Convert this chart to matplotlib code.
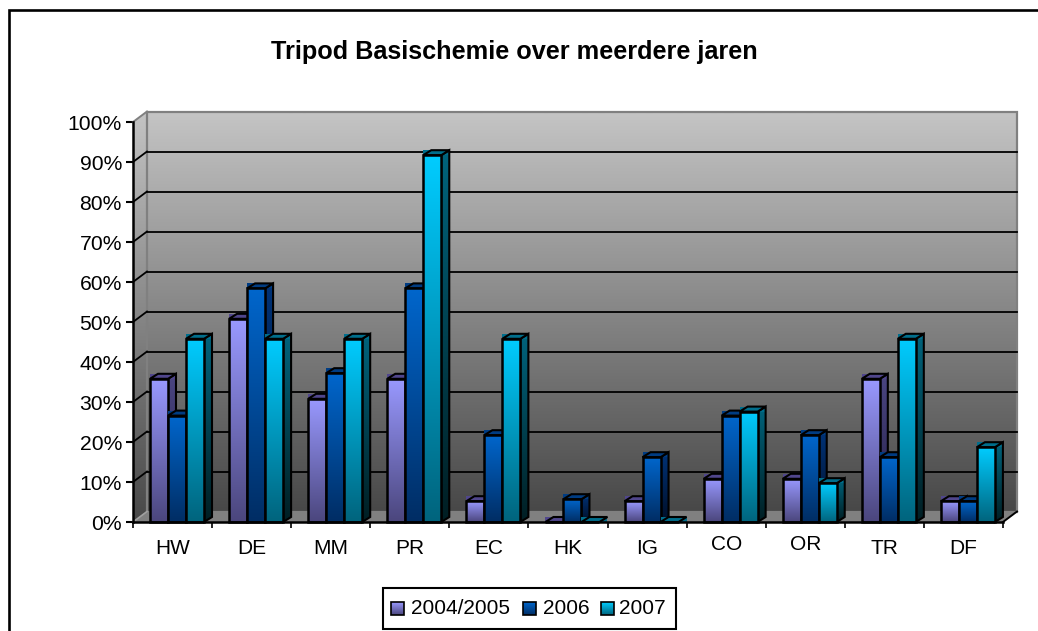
import numpy as np
import matplotlib
matplotlib.use('Agg')
import matplotlib.pyplot as plt
from matplotlib.patches import Polygon, Rectangle
from matplotlib.colors import to_rgb

plt.rcParams['font.family'] = ['Liberation Sans', 'DejaVu Sans']

title = 'Tripod Basischemie over meerdere jaren'
categories = ['HW', 'DE', 'MM', 'PR', 'EC', 'HK', 'IG', 'CO', 'OR', 'TR', 'DF']
series_names = ['2004/2005', '2006', '2007']
v2005 = [35.8, 50.8, 30.8, 35.8, 5.2, 0, 5.2, 10.8, 10.8, 35.8, 5.2]
v2006 = [26.6, 58.4, 37.2, 58.4, 21.7, 5.7, 16.2, 26.6, 21.7, 16.2, 5.2]
v2007 = [45.8, 45.8, 45.8, 91.7, 45.8, 0, 0, 27.6, 9.7, 45.8, 18.7]
y_ticks = list(range(0, 101, 10))

# front / side / top kleuren per reeks
front_cols = [('#9999ff', '#4b467d'), ('#0066cc', '#002d64'), ('#00ccff', '#00647d')]
side_cols = [('#4b4682', '#231e46'), ('#003378', '#000f28'), ('#00647d', '#001e23')]
top_cols = ['#50468c', '#003c82', '#006e8c']

W, H = 1038, 631
X0, X1, Y0, Y1 = 133, 1003, 522, 122   # plot box in pixels
PX_X = len(categories) / (X1 - X0)
PX_Y = 100 / (Y0 - Y1)

fig = plt.figure(figsize=(W / 100, H / 100), dpi=100, facecolor='white')

# overlay in pixels for frame, title and legend
bg = fig.add_axes([0, 0, 1, 1], zorder=0)
bg.set_xlim(0, W)
bg.set_ylim(H, 0)
bg.axis('off')

ax = fig.add_axes([X0 / W, 1 - Y0 / H, (X1 - X0) / W, (Y0 - Y1) / H], zorder=1)
ax.patch.set_visible(False)


def gradient(a, verts, c_top, c_bot, z):
    # vertical gradient clipped to a polygon
    verts = np.array(verts, dtype=float)
    t = np.linspace(0, 1, 128)[:, None, None]
    img = np.array(to_rgb(c_top))[None, None, :] * (1 - t) + np.array(to_rgb(c_bot))[None, None, :] * t
    im = a.imshow(img, extent=(verts[:, 0].min(), verts[:, 0].max(), verts[:, 1].min(), verts[:, 1].max()),
                  aspect='auto', interpolation='bilinear', zorder=z)
    clip = Polygon(verts, closed=True, transform=a.transData)
    im.set_clip_path(clip)
    im.set_clip_box(fig.bbox)
    return im


n = len(categories)
dx, dy = 14 * PX_X, 10.5 * PX_Y   # wall depth
bw = 18 * PX_X
start = 17 * PX_X
bdx, bdy = 8 * PX_X, 5 * PX_Y     # bar depth

# walls and floor
gradient(ax, [(dx, dy), (n + dx, dy), (n + dx, 100 + dy), (dx, 100 + dy)], '#c4c4c4', '#484848', 1)
gradient(ax, [(0, 0), (dx, dy), (dx, 100 + dy), (0, 100)], '#c4c4c4', '#484848', 1)
ax.add_patch(Polygon([(0, 0), (n, 0), (n + dx, dy), (dx, dy)], closed=True, fc='#808080', ec='none',
                     zorder=1.5, clip_on=False))
ax.add_patch(Polygon([(dx, dy), (n + dx, dy), (n + dx, 100 + dy), (dx, 100 + dy)], closed=True, fc='none',
                     ec='#808080', lw=1.6, zorder=1.6, clip_on=False))
ax.plot([0, dx], [100, 100 + dy], color='#808080', lw=1.4, zorder=1.6, clip_on=False)
ax.plot([0, dx], [0, dy], color='#a0a0a0', lw=1.2, zorder=1.6, clip_on=False)
ax.plot([n, n + dx], [0, dy], color='black', lw=1.4, zorder=1.7, clip_on=False)

for y in y_ticks[1:-1]:
    ax.plot([dx, n + dx], [y + dy, y + dy], color='black', lw=1.3, zorder=2, clip_on=False)
    ax.plot([0, dx], [y, y + dy], color='black', lw=1.3, zorder=2, clip_on=False)

# bars, one series after the other so later ones cover the side of the former
for s, vals in enumerate([v2005, v2006, v2007]):
    base = 10 + s * 5
    xs = np.arange(n) + start + s * bw
    bars = ax.bar(xs, vals, width=bw, align='edge', facecolor='none', edgecolor='black', linewidth=1.8,
                  zorder=base + 3, clip_on=False)
    for x, v, rect in zip(xs, vals, bars):
        if v > 0:
            gradient(ax, [(x, 0), (x + bw, 0), (x + bw, v), (x, v)], *front_cols[s], base + 2)
            side = [(x + bw, 0), (x + bw + bdx, bdy), (x + bw + bdx, v + bdy), (x + bw, v)]
            gradient(ax, side, *side_cols[s], base)
            ax.add_patch(Polygon(side, closed=True, fc='none', ec='black', lw=1.5, zorder=base + 1, clip_on=False))
        # small coloured corners around the top face
        ax.add_patch(Rectangle((x, v), bw + bdx, bdy, fc=top_cols[s], ec='none', zorder=base + 0.5, clip_on=False))
        top = [(x, v), (x + bw, v), (x + bw + bdx, v + bdy), (x + bdx, v + bdy)]
        ax.add_patch(Polygon(top, closed=True, fc=top_cols[s], ec='black', lw=1.5, zorder=base + 1, clip_on=False))

ax.set_xlim(0, n)
ax.set_ylim(0, 100)
for name in ['top', 'right']:
    ax.spines[name].set_visible(False)
for name in ['left', 'bottom']:
    ax.spines[name].set_linewidth(1.8)
    ax.spines[name].set_zorder(40)
ax.set_yticks(y_ticks)
ax.set_yticklabels([f'{y}%' for y in y_ticks], fontsize=15.2)
ax.set_xticks(range(n + 1))
ax.set_xticklabels([])
ax.set_xticks(np.arange(n) + 0.5, minor=True)
ax.set_xticklabels(categories, minor=True, fontsize=15)
ax.tick_params(axis='y', length=5, width=1.5, pad=3)
ax.tick_params(axis='x', which='major', length=4, width=1.2)
ax.tick_params(axis='x', which='minor', length=0, pad=12)
for i in [7, 8]:
    ax.xaxis.get_minor_ticks()[i].set_pad(9)

# frame, open to the right and bottom
bg.plot([9, 9, W], [H, 10, 10], color='black', lw=1.9, solid_joinstyle='miter')
bg.text(514, 52, title, ha='center', va='center', fontsize=18.2, fontweight='bold')

# legend
bg.add_patch(Rectangle((383, 588), 293, 41, fc='white', ec='black', lw=1.5))
swatch_x = [391, 523, 601]
text_x = [411, 543, 619]
for s, name in enumerate(series_names):
    gradient(bg, [(swatch_x[s], 602), (swatch_x[s] + 13, 602), (swatch_x[s] + 13, 615), (swatch_x[s], 615)],
             front_cols[s][1], front_cols[s][0], 3)
    bg.add_patch(Rectangle((swatch_x[s], 602), 13, 13, fc='none', ec='black', lw=1.2, zorder=4))
    bg.text(text_x[s], 609, name, ha='left', va='center', fontsize=15, zorder=4)
bg.set_xlim(0, W)
bg.set_ylim(H, 0)

fig.savefig('out.png', dpi=100)
